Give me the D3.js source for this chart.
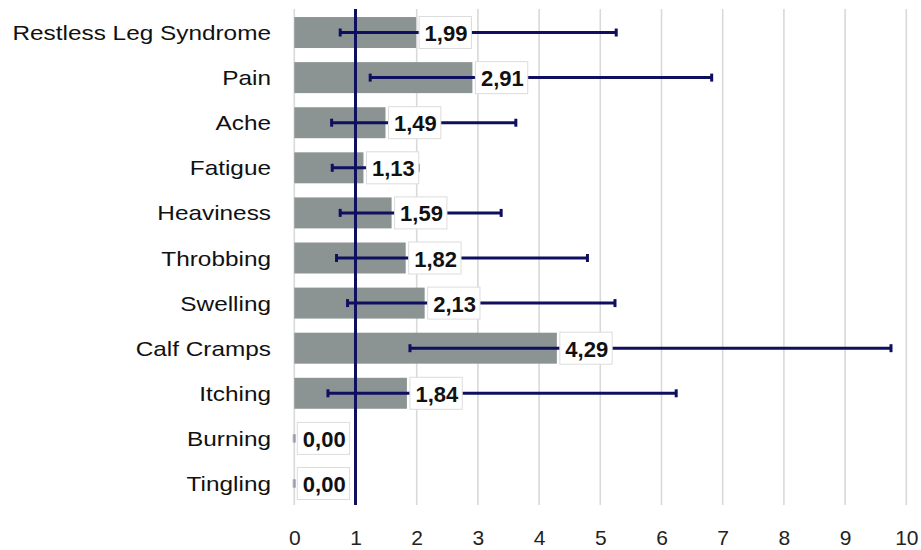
<!DOCTYPE html>
<html>
<head>
<meta charset="utf-8">
<script src="https://cdn.jsdelivr.net/npm/d3@7"></script>
<style>
  html, body { margin: 0; padding: 0; background: #fff; }
  svg { display: block; }
</style>
</head>
<body>
<svg id="chart" width="921" height="550"></svg>
<script>
const categories = ["Restless Leg Syndrome","Pain","Ache","Fatigue","Heaviness","Throbbing","Swelling","Calf Cramps","Itching","Burning","Tingling"];
const values = [1.99, 2.91, 1.49, 1.13, 1.59, 1.82, 2.13, 4.29, 1.84, 0.00, 0.00];
const errLow = [0.75, 1.24, 0.61, 0.62, 0.75, 0.69, 0.87, 1.89, 0.55, 0.00, 0.00];
const errHigh = [5.26, 6.82, 3.62, 2.02, 3.38, 4.79, 5.24, 9.75, 6.24, 0.00, 0.00];
const xTicks = [0,1,2,3,4,5,6,7,8,9,10];
const refValue = 1;

const svg = d3.select("#chart");
const x = d3.scaleLinear().domain([0, 10]).range([294.3, 906.3]);
const y = d3.scaleBand().domain(categories).range([10, 506]).paddingInner(0.313).paddingOuter(0.156);
const plotTop = 9, plotBottom = 505;

const navy = "#0f0f5f";

// grid lines
svg.append("g").selectAll("line").data(xTicks).join("line")
  .attr("x1", d => x(d)).attr("x2", d => x(d))
  .attr("y1", plotTop).attr("y2", plotBottom)
  .attr("stroke", "#d9d9d9").attr("stroke-width", 1.6);

// x axis tick labels
const xAxis = d3.axisBottom(x).tickValues(xTicks).tickSize(0).tickPadding(0).tickFormat(d3.format("d"));
const gx = svg.append("g").attr("transform", `translate(0, 530)`).call(xAxis);
gx.select(".domain").remove();
gx.selectAll("text")
  .attr("font-family", "'Liberation Sans', Arial, sans-serif")
  .attr("font-size", 21).attr("fill", "#222").attr("dy", 0).attr("y", 14.5);

// bars
const rows = categories.map((c, i) => ({c, v: values[i], lo: errLow[i], hi: errHigh[i]}));
svg.append("g").selectAll("rect").data(rows).join("rect")
  .attr("x", x(0)).attr("y", d => y(d.c))
  .attr("width", d => x(d.v) - x(0)).attr("height", y.bandwidth())
  .attr("fill", "#8b9492");

// error bars
const eb = svg.append("g").selectAll("g").data(rows).join("g")
  .attr("transform", d => `translate(0, ${y(d.c) + y.bandwidth() / 2})`)
  .attr("opacity", d => d.hi === d.lo ? 0.3 : 1);
eb.append("line")
  .attr("x1", d => x(d.lo)).attr("x2", d => x(d.hi))
  .attr("stroke", navy).attr("stroke-width", 3);
eb.selectAll("line.cap").data(d => [d.lo, d.hi]).join("line").attr("class", "cap")
  .attr("x1", d => x(d)).attr("x2", d => x(d))
  .attr("y1", -4).attr("y2", 4)
  .attr("stroke", navy).attr("stroke-width", 3);

// reference line
svg.append("line")
  .attr("x1", x(refValue)).attr("x2", x(refValue))
  .attr("y1", plotTop).attr("y2", plotBottom)
  .attr("stroke", navy).attr("stroke-width", 3);

// data labels
const fmt = v => d3.format(".2f")(v).replace(".", ",");
const lbl = svg.append("g").selectAll("g").data(rows).join("g")
  .attr("transform", d => `translate(${x(d.v) + 3}, ${y(d.c) + y.bandwidth() / 2})`);
const rects = lbl.append("rect").attr("fill", "#fff").attr("stroke", "#dcdcdc").attr("stroke-width", 1);
const texts = lbl.append("text")
  .attr("x", 5.5).attr("y", 8.5)
  .attr("font-family", "'Liberation Sans', Arial, sans-serif")
  .attr("font-weight", "bold").attr("font-size", 22).attr("fill", "#111")
  .text(d => fmt(d.v));
texts.each(function(d) {
  const w = this.getComputedTextLength();
  d3.select(this.parentNode).select("rect")
    .attr("x", 0).attr("y", -16).attr("width", w + 9.5).attr("height", 32);
});

// category labels
svg.append("g").selectAll("text").data(categories).join("text")
  .attr("transform", d => `translate(271, ${y(d) + y.bandwidth() / 2 + 7.5}) scale(1.16, 1)`)
  .attr("text-anchor", "end")
  .attr("font-family", "'Liberation Sans', Arial, sans-serif")
  .attr("font-size", 21).attr("fill", "#111")
  .text(d => d);
</script>
</body>
</html>
